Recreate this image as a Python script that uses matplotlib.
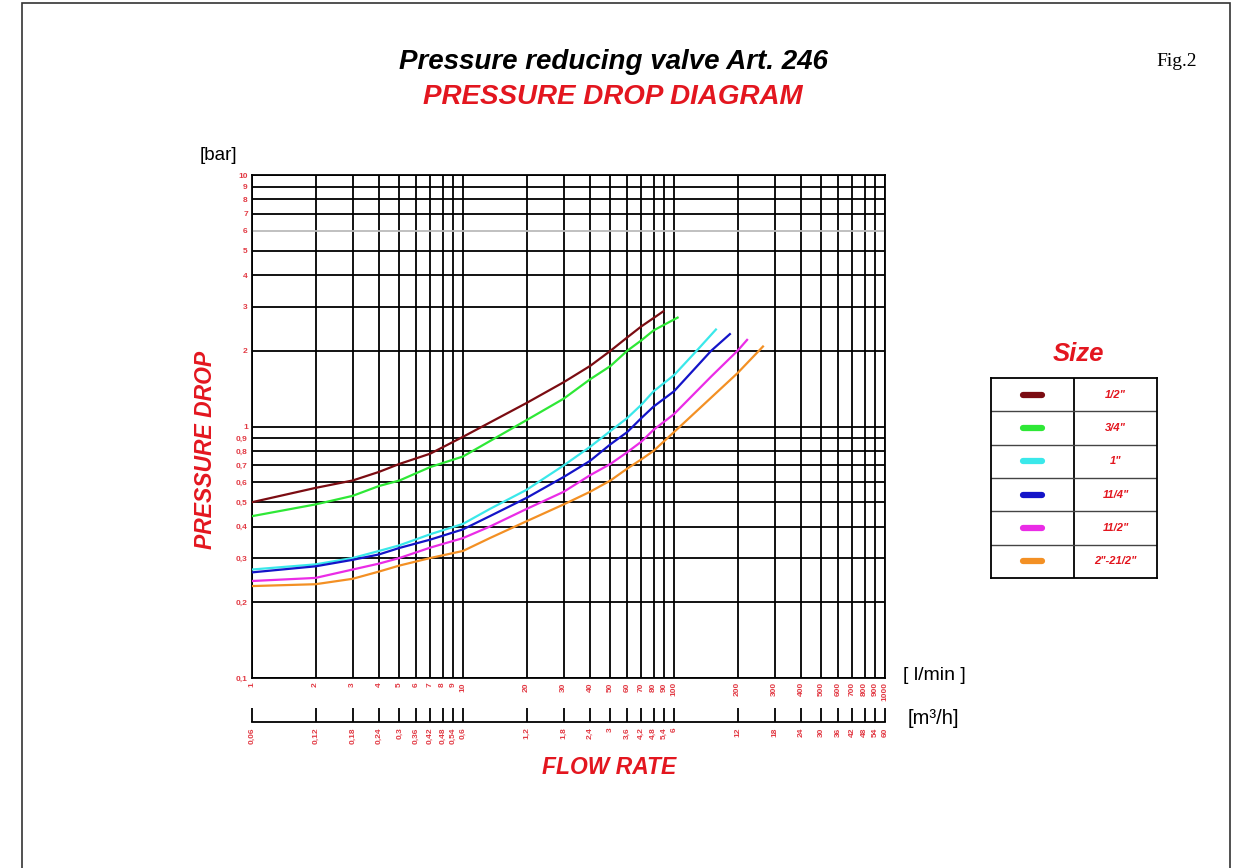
import matplotlib
matplotlib.use('Agg')
import matplotlib.pyplot as plt
from matplotlib.patches import Rectangle

plt.rcParams['font.family'] = ['Liberation Sans', 'DejaVu Sans']

RED = '#e3161f'
TICK_RED = '#e23a44'

# grid / tick values
x_ticks = [1, 2, 3, 4, 5, 6, 7, 8, 9, 10, 20, 30, 40, 50, 60, 70, 80, 90, 100,
           200, 300, 400, 500, 600, 700, 800, 900, 1000]
x_labels = ['1', '2', '3', '4', '5', '6', '7', '8', '9', '10', '20', '30', '40', '50',
            '60', '70', '80', '90', '100', '200', '300', '400', '500', '600', '700',
            '800', '900', '1000']
m3h_labels = ['0,06', '0,12', '0,18', '0,24', '0,3', '0,36', '0,42', '0,48', '0,54', '0,6',
              '1,2', '1,8', '2,4', '3', '3,6', '4,2', '4,8', '5,4', '6',
              '12', '18', '24', '30', '36', '42', '48', '54', '60']
y_ticks = [0.1, 0.2, 0.3, 0.4, 0.5, 0.6, 0.7, 0.8, 0.9, 1, 2, 3, 4, 5, 6, 7, 8, 9, 10]
y_labels = ['0,1', '0,2', '0,3', '0,4', '0,5', '0,6', '0,7', '0,8', '0,9',
            '1', '2', '3', '4', '5', '6', '7', '8', '9', '10']

# curves: flow rate [l/min] vs pressure drop [bar]
flow_12 = [1, 2, 3, 4, 5, 7, 10, 20, 30, 40, 50, 60, 70, 89]
dp_12 = [0.50, 0.57, 0.61, 0.66, 0.71, 0.78, 0.91, 1.24, 1.50, 1.74, 2.00, 2.26, 2.50, 2.87]

flow_34 = [1, 2, 3, 4, 5, 7, 10, 20, 30, 40, 50, 60, 70, 80, 104]
dp_34 = [0.44, 0.49, 0.53, 0.58, 0.61, 0.69, 0.76, 1.06, 1.29, 1.54, 1.74, 2.0, 2.2, 2.41, 2.71]

flow_1 = [1, 2, 3, 4, 5, 7, 10, 13.4, 20, 30, 40, 50, 60, 70, 80, 100, 128, 158]
dp_1 = [0.27, 0.283, 0.30, 0.32, 0.337, 0.373, 0.41, 0.47, 0.56, 0.70, 0.83, 0.96,
        1.08, 1.22, 1.38, 1.60, 2.0, 2.43]

flow_114 = [1, 2, 3, 4, 5, 7, 10, 13.4, 20, 30, 40, 50, 60, 70, 80, 100, 150, 184]
dp_114 = [0.263, 0.278, 0.295, 0.31, 0.329, 0.355, 0.39, 0.44, 0.52, 0.63, 0.73, 0.85,
          0.95, 1.08, 1.2, 1.38, 2.0, 2.33]

flow_112 = [1, 2, 3, 4, 5, 7, 10, 13.4, 20, 30, 40, 50, 60, 70, 80, 100, 150, 200, 222]
dp_112 = [0.243, 0.25, 0.27, 0.285, 0.30, 0.33, 0.36, 0.40, 0.47, 0.55, 0.64, 0.71,
          0.79, 0.87, 0.97, 1.12, 1.58, 2.0, 2.21]

flow_2 = [1, 2, 3, 4, 5, 7, 10, 13.4, 20, 30, 40, 50, 60, 70, 80, 100, 200, 264]
dp_2 = [0.232, 0.236, 0.248, 0.265, 0.28, 0.30, 0.32, 0.36, 0.42, 0.49, 0.55, 0.61,
        0.68, 0.74, 0.80, 0.95, 1.63, 2.08]

sizes = ['1/2"', '3/4"', '1"', '11/4"', '11/2"', '2"-21/2"']
colors = ['#7b0c12', '#2ee836', '#3ae8ea', '#1414c8', '#ea2ce6', '#f39024']
curves = [(flow_12, dp_12), (flow_34, dp_34), (flow_1, dp_1),
          (flow_114, dp_114), (flow_112, dp_112), (flow_2, dp_2)]

W, H = 1233, 868
fig = plt.figure(figsize=(W / 100, H / 100), dpi=100)


def fx(px):
    return px / W


def fy(py):
    return 1 - py / H


# outer frame
fig.patches.append(Rectangle((fx(22), fy(872)), fx(1230) - fx(22), fy(3) - fy(872),
                             transform=fig.transFigure, fill=False, lw=1.2, ec='#333333'))

# main chart
left, right, top, bottom = 252, 885, 175, 678
ax = fig.add_axes([fx(left), fy(bottom), fx(right - left), fy(top) - fy(bottom)])
ax.set_xscale('log')
ax.set_yscale('log')
ax.set_xlim(1, 1000)
ax.set_ylim(0.1, 10)

for xv in x_ticks:
    ax.axvline(xv, color='black', lw=1.3, zorder=1)
for yv in y_ticks:
    ax.axhline(yv, color='#bbbbbb' if yv == 6 else 'black', lw=1.3, zorder=1)

for (fl, dp), c in zip(curves, colors):
    ax.plot(fl, dp, color=c, lw=1.6, zorder=3)

ax.set_xticks(x_ticks)
ax.set_xticklabels(x_labels, rotation=90, fontsize=6, color=TICK_RED, fontweight='bold')
ax.set_yticks(y_ticks)
ax.set_yticklabels(y_labels, fontsize=6, color=TICK_RED, fontweight='bold')
ax.minorticks_off()
ax.tick_params(length=0, pad=3)
for s in ax.spines.values():
    s.set_linewidth(1.3)

# second flow axis in m3/h
ax2 = fig.add_axes([fx(left), fy(722), fx(right - left), fy(708) - fy(722)])
ax2.set_xscale('log')
ax2.set_xlim(1, 1000)
ax2.set_xticks(x_ticks)
ax2.set_xticklabels(m3h_labels, rotation=90, fontsize=6, color=TICK_RED, fontweight='bold')
ax2.minorticks_off()
ax2.set_yticks([])
ax2.tick_params(axis='x', direction='in', length=10, width=1.3, pad=4)
ax2.patch.set_visible(False)
for side in ['left', 'right', 'top']:
    ax2.spines[side].set_visible(False)
ax2.spines['bottom'].set_linewidth(1.3)

# texts
fig.text(fx(613), fy(62), 'Pressure reducing valve Art. 246', ha='center', va='center',
         fontsize=20, fontweight='bold', fontstyle='italic', color='black')
fig.text(fx(613), fy(97), 'PRESSURE DROP DIAGRAM', ha='center', va='center',
         fontsize=20, fontweight='bold', fontstyle='italic', color=RED)
fig.text(fx(1177), fy(62), 'Fig.2', ha='center', va='center', fontsize=14,
         family='Liberation Serif', color='black')
fig.text(fx(218), fy(155), '[bar]', ha='center', va='center', fontsize=13.5, color='black')
fig.text(fx(205), fy(450), 'PRESSURE DROP', ha='center', va='center', rotation=90,
         fontsize=16.5, fontweight='bold', fontstyle='italic', color=RED)
fig.text(fx(609), fy(767), 'FLOW RATE', ha='center', va='center',
         fontsize=16.5, fontweight='bold', fontstyle='italic', color=RED)
fig.text(fx(934), fy(676), '[ l/min ]', ha='center', va='center', fontsize=14, color='black')
fig.text(fx(933), fy(718), '[m\u00b3/h]', ha='center', va='center', fontsize=14.5, color='black')

# legend table
fig.text(fx(1078), fy(354), 'Size', ha='center', va='center', fontsize=18.5,
         fontweight='bold', fontstyle='italic', color=RED)
lg = fig.add_axes([fx(991), fy(578), fx(1157 - 991), fy(378) - fy(578)])
lg.set_xlim(0, 1)
lg.set_ylim(0, len(sizes))
lg.set_xticks([])
lg.set_yticks([])
for s in lg.spines.values():
    s.set_linewidth(1.3)
lg.axvline(0.5, color='black', lw=1.3)
for i in range(1, len(sizes)):
    lg.axhline(i, color='#444444', lw=1.0)
for i, (lab, c) in enumerate(zip(sizes, colors)):
    yc = len(sizes) - i - 0.5
    lg.plot([0.19, 0.31], [yc, yc], color=c, lw=4.5, solid_capstyle='round')
    lg.text(0.75, yc, lab, ha='center', va='center', fontsize=8,
            fontweight='bold', fontstyle='italic', color=RED)

fig.savefig('out.png', dpi=100)
